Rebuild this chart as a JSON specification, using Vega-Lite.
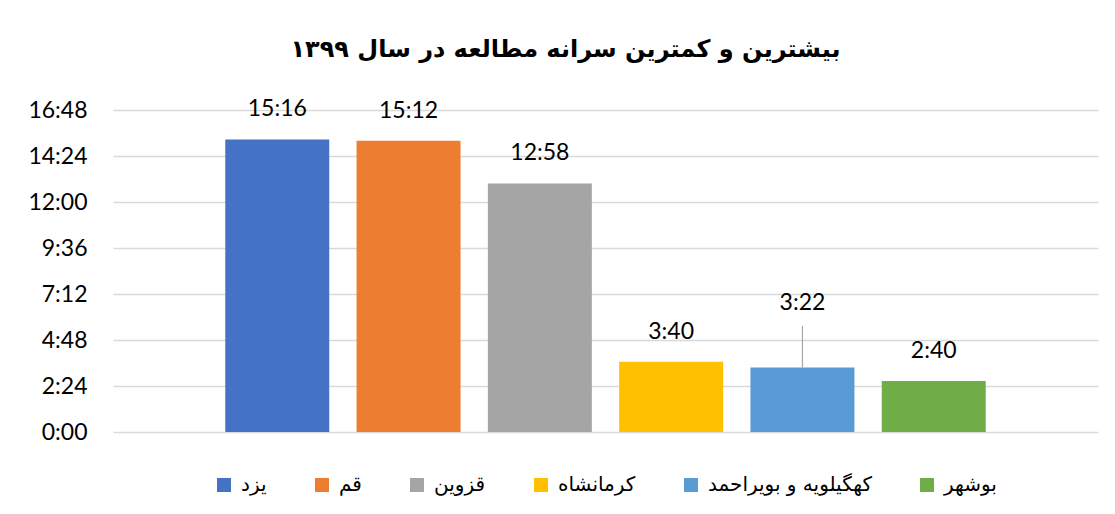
{
  "$schema": "https://vega.github.io/schema/vega-lite/v6.json",
  "width": 985,
  "height": 322,
  "autosize": {"type": "none"},
  "padding": {"left": 113, "top": 110, "right": 17, "bottom": 82},
  "background": "white",
  "title": {
    "text": "بیشترین و کمترین سرانه مطالعه در سال ۱۳۹۹",
    "font": "DejaVu Sans",
    "fontSize": 24,
    "fontWeight": "bold",
    "color": "#000000",
    "offset": 36,
    "anchor": "middle",
    "dx": -40
  },
  "data": {
    "values": [
      {"province": "یزد", "minutes": 916, "time": "15:16"},
      {"province": "قم", "minutes": 912, "time": "15:12"},
      {"province": "قزوین", "minutes": 778, "time": "12:58"},
      {"province": "کرمانشاه", "minutes": 220, "time": "3:40"},
      {"province": "کهگیلویه و بویراحمد", "minutes": 202, "time": "3:22"},
      {"province": "بوشهر", "minutes": 160, "time": "2:40"}
    ]
  },
  "encoding": {
    "x": {
      "field": "province",
      "type": "nominal",
      "sort": null,
      "axis": null,
      "scale": {"paddingInner": 0.208, "paddingOuter": 0.855}
    },
    "y": {
      "field": "minutes",
      "type": "quantitative",
      "scale": {"domain": [0, 1008], "nice": false},
      "axis": {
        "title": null,
        "values": [0, 144, 288, 432, 576, 720, 864, 1008],
        "labelExpr": "floor(datum.value/60) + ':' + (datum.value % 60 < 10 ? '0' : '') + (datum.value % 60)",
        "labelFont": "Lato",
        "labelFontSize": 23,
        "labelColor": "#000000",
        "labelPadding": 26,
        "domain": false,
        "ticks": false,
        "grid": true,
        "gridColor": "#d9d9d9",
        "gridWidth": 1.5
      }
    }
  },
  "layer": [
    {
      "mark": {"type": "bar"},
      "encoding": {
        "color": {
          "field": "province",
          "type": "nominal",
          "sort": null,
          "scale": {
            "domain": ["یزد", "قم", "قزوین", "کرمانشاه", "کهگیلویه و بویراحمد", "بوشهر"],
            "range": ["#4472C4", "#ED7D31", "#A5A5A5", "#FFC000", "#5B9BD5", "#70AD47"]
          },
          "legend": {
            "orient": "bottom",
            "direction": "horizontal",
            "title": null,
            "symbolType": "square",
            "symbolSize": 196,
            "symbolStrokeWidth": 0,
            "labelFont": "DejaVu Sans",
            "labelFontSize": 20,
            "labelLimit": 400,
            "labelColor": "#000000",
            "labelOffset": 7,
            "columnPadding": 45,
            "offset": 43
          }
        }
      }
    },
    {
      "transform": [{"filter": "datum.province != 'کهگیلویه و بویراحمد'"}],
      "mark": {"type": "text", "baseline": "bottom", "dy": -18, "font": "Lato", "fontSize": 23, "color": "#000000"},
      "encoding": {"text": {"field": "time"}}
    },
    {
      "transform": [{"filter": "datum.province == 'کهگیلویه و بویراحمد'"}],
      "mark": {"type": "text", "baseline": "bottom", "dy": -52, "font": "Lato", "fontSize": 23, "color": "#000000"},
      "encoding": {"text": {"field": "time"}}
    },
    {
      "transform": [{"filter": "datum.province == 'کهگیلویه و بویراحمد'"}],
      "mark": {"type": "rule", "color": "#a6a6a6", "strokeWidth": 1.2},
      "encoding": {"y2": {"datum": 332}}
    }
  ],
  "config": {
    "view": {"stroke": null},
    "legend": {"layout": {"bottom": {"anchor": "middle"}}}
  }
}
